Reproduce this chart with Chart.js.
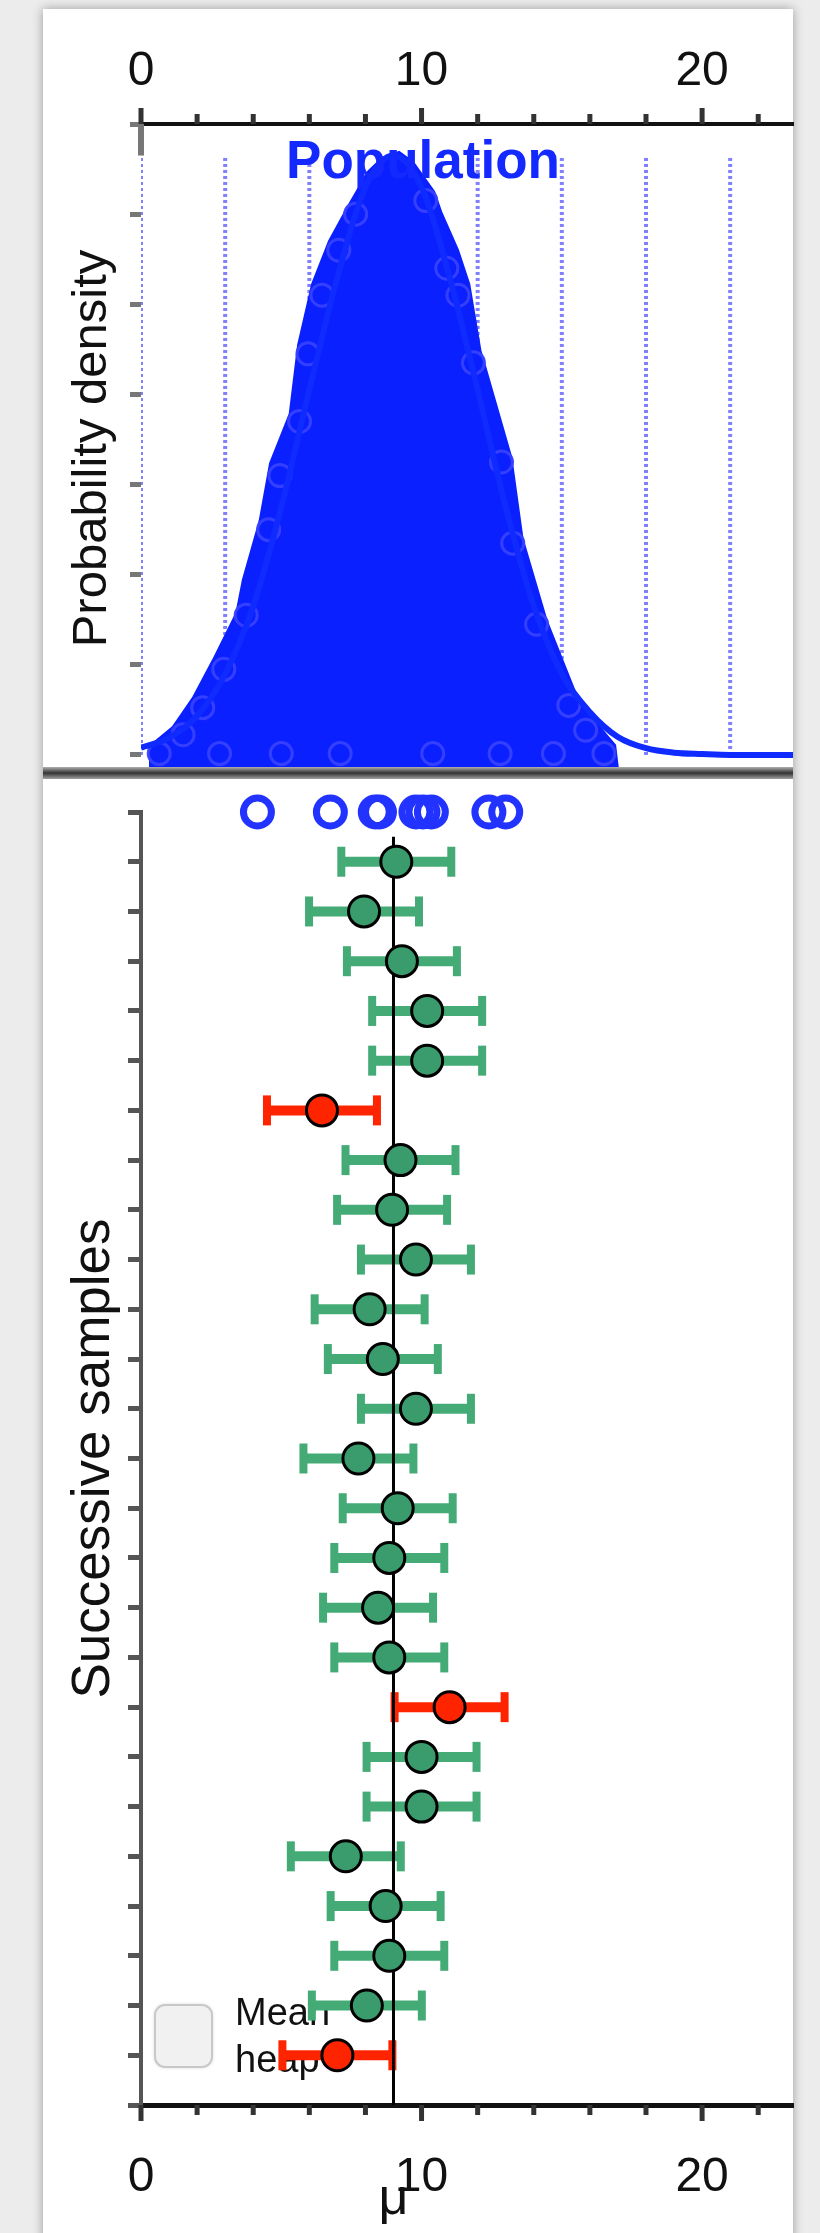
<!DOCTYPE html>
<html>
<head>
<meta charset="utf-8">
<script src="https://cdn.jsdelivr.net/npm/chart.js@4.4.1/dist/chart.umd.min.js"></script>
<style>
  html, body { margin: 0; padding: 0; background: #ececec; }
  body { width: 820px; height: 2233px; position: relative; overflow: hidden; }
  #card { position: absolute; left: 43px; top: 9px; width: 750px; height: 2250px; background: #fff;
          box-shadow: 0 0 10px rgba(0, 0, 0, 0.35); }
  #top { position: absolute; left: 0; top: 0; }
  #bottom { position: absolute; left: 0; top: 760px; }
</style>
</head>
<body>
<div id="card"></div>
<canvas id="top" width="820" height="790"></canvas>
<canvas id="bottom" width="820" height="1473"></canvas>
<script>
const FONT = '"Liberation Sans", Arial, Helvetica, sans-serif';

// shared x axis
const xMin = 0;
const xMax = 23.24;
const xMinorStep = 2;
const xTickLabels = [0, 10, 20];

// top panel: population density
const popMean = 9;
const sigmaLines = [0, 3, 6, 9, 12, 15, 18, 21];
const sigmaLineTop = 0.133;
const densityTicks = 0.02;
const curveX = [0, 1, 2, 3, 4, 5, 6, 7, 8, 9, 10, 11, 12, 13, 14, 15, 16, 17, 18, 19, 20, 21, 22, 23, 24];
const curveY = [0.0016, 0.0038, 0.0087, 0.018, 0.033, 0.055, 0.081, 0.106, 0.126, 0.133, 0.126, 0.106,
                0.081, 0.055, 0.033, 0.018, 0.0095, 0.004, 0.0015, 0.0005, 0.0002, 0, 0, 0, 0];
// outline of the blob of population draws
const blobX = [0.28, 1.13, 1.86, 2.56, 3.4, 3.63, 4.23, 4.6, 5.3, 5.6, 6.1, 6.7, 7.4, 8.1, 8.6, 9.2, 9.7,
               10.45, 10.7, 11.3, 11.7, 12.1, 12.2, 13.2, 13.6, 14.45, 15.6, 16.2, 16.9, 17.0];
const blobY = [0.0018, 0.0062, 0.0128, 0.021, 0.0315, 0.0388, 0.052, 0.0647, 0.0757, 0.091, 0.1045, 0.114,
               0.122, 0.1295, 0.1325, 0.1338, 0.1315, 0.125, 0.1205, 0.112, 0.1045, 0.0897, 0.0877, 0.066,
               0.048, 0.030, 0.012, 0.0073, 0.0022, -0.003];
const blobFloor = -0.003;
// single draws that show along the blob edge
const edgeX = [1.5, 2.2, 2.95, 3.75, 4.55, 4.95, 5.65, 5.95, 6.45, 7.05, 7.65,
               10.15, 10.9, 11.3, 11.85, 12.85, 13.25, 14.1, 15.25, 15.85,
               0.65, 2.8, 5.0, 7.1, 10.4, 12.8, 14.7, 16.5];
const edgeY = [0.0045, 0.0105, 0.019, 0.031, 0.050, 0.062, 0.074, 0.089, 0.102, 0.112, 0.12,
               0.123, 0.108, 0.102, 0.087, 0.065, 0.047, 0.029, 0.011, 0.0055,
               0.0003, 0.0003, 0.0003, 0.0003, 0.0003, 0.0003, 0.0003, 0.0003];

// bottom panel: successive samples, row 1 = bottom
const sampleMeans = [7.0, 8.05, 8.85, 8.72, 7.3, 10.0, 10.0, 11.0, 8.85, 8.45, 8.85, 9.15, 7.75,
                     9.8, 8.62, 8.15, 9.8, 8.95, 9.25, 6.45, 10.2, 10.2, 9.3, 7.95, 9.1];
const ciHalfWidth = 1.96;
const lastSample = [4.15, 6.75, 8.35, 8.5, 9.8, 10.05, 10.35, 12.4, 13.0];
const lastSampleRow = 26;
const muLineTop = 25.5;

const BLUE = '#0b20ff';
const GREEN_BAR = '#44ab77';
const GREEN_DOT = '#3a9b6d';
const RED = '#ff2400';

const topDecor = {
  id: 'topDecor',
  afterDatasetsDraw(chart) {
    const ctx = chart.ctx;
    ctx.save();
    ctx.font = 'bold 53px ' + FONT;
    ctx.fillStyle = '#1429ff';
    ctx.textAlign = 'center';
    ctx.fillText('Population', 423, 178);
    ctx.restore();
  },
  afterDraw(chart) {
    const {ctx, chartArea} = chart;
    const x = chart.scales.x;
    ctx.save();
    ctx.strokeStyle = '#333';
    ctx.lineWidth = 5;
    for (let v = xMin; v <= xMax; v += xMinorStep) {
      const px = x.getPixelForValue(v);
      const len = xTickLabels.includes(v) ? 16 : 10;
      ctx.beginPath();
      ctx.moveTo(px, chartArea.top);
      ctx.lineTo(px, chartArea.top - len);
      ctx.stroke();
    }
    // short piece of the left spine above the dotted line
    ctx.strokeStyle = '#777';
    ctx.lineWidth = 6;
    ctx.beginPath();
    ctx.moveTo(chartArea.left, chartArea.top);
    ctx.lineTo(chartArea.left, chart.scales.y.getPixelForValue(sigmaLineTop));
    ctx.stroke();
    // divider between the panels
    const g = ctx.createLinearGradient(0, 767, 0, 779);
    g.addColorStop(0, '#b0b0b0');
    g.addColorStop(0.5, '#333');
    g.addColorStop(1, '#a0a0a0');
    ctx.fillStyle = g;
    ctx.fillRect(43, 767, 750, 12);
    ctx.restore();
  }
};

const bottomDecor = {
  id: 'bottomDecor',
  beforeDatasetsDraw(chart) {
    const ctx = chart.ctx;
    const oy = 760;
    ctx.save();
    ctx.shadowColor = 'rgba(0,0,0,0.2)';
    ctx.shadowBlur = 4;
    ctx.fillStyle = '#f1f1f1';
    ctx.strokeStyle = '#c8c8c8';
    ctx.lineWidth = 2;
    ctx.beginPath();
    ctx.roundRect(155, 2005 - oy, 57, 62, 10);
    ctx.fill();
    ctx.shadowBlur = 0;
    ctx.stroke();
    ctx.font = '38px ' + FONT;
    ctx.fillStyle = '#111';
    ctx.textAlign = 'left';
    ctx.fillText('Mean', 235, 2025 - oy);
    ctx.fillText('heap', 235, 2072 - oy);
    ctx.restore();
  },
  afterDraw(chart) {
    const {ctx, chartArea} = chart;
    const x = chart.scales.x;
    ctx.save();
    ctx.strokeStyle = '#333';
    ctx.lineWidth = 5;
    for (let v = xMin; v <= xMax; v += xMinorStep) {
      const px = x.getPixelForValue(v);
      const len = xTickLabels.includes(v) ? 16 : 10;
      ctx.beginPath();
      ctx.moveTo(px, chartArea.bottom);
      ctx.lineTo(px, chartArea.bottom + len);
      ctx.stroke();
    }
    ctx.font = '52px ' + FONT;
    ctx.fillStyle = '#111';
    ctx.textAlign = 'center';
    ctx.fillText('\u03bc', x.getPixelForValue(popMean), 2214 - 760);
    ctx.restore();
  }
};

function xScale(position, padding) {
  return {
    type: 'linear', position: position, min: xMin, max: xMax,
    afterFit(s) { s.height = position === 'top' ? 124 : 100; },
    ticks: {
      stepSize: xMinorStep, includeBounds: false, autoSkip: false, maxRotation: 0, minRotation: 0,
      padding: padding, color: '#111', font: {family: FONT, size: 48},
      callback: v => (xTickLabels.includes(v) ? String(v) : '')
    },
    grid: {display: false},
    border: {display: true, color: '#111', width: position === 'top' ? 4 : 5}
  };
}

function yTitle(text, size) {
  return {display: true, text: text, color: '#111', font: {family: FONT, size: size}, padding: {top: 63, bottom: 0}};
}

// ---------- top chart ----------
const topSets = [];
sigmaLines.forEach(v => {
  topSets.push({
    data: [{x: v, y: 0}, {x: v, y: sigmaLineTop}], showLine: true, pointRadius: 0,
    borderColor: 'rgba(85, 85, 255, 0.75)', borderWidth: 4, borderDash: [3, 3], order: 5
  });
});
topSets.push({
  data: blobX.map((v, i) => ({x: v, y: blobY[i]})), showLine: true, pointRadius: 0,
  borderColor: BLUE, borderWidth: 2, backgroundColor: BLUE, fill: {value: blobFloor}, order: 4
});
topSets.push({
  data: edgeX.map((v, i) => ({x: v, y: edgeY[i]})), pointRadius: 11, pointBorderWidth: 3,
  pointBorderColor: 'rgba(55, 65, 255, 0.95)', pointBackgroundColor: BLUE, order: 3
});
topSets.push({
  data: curveX.map((v, i) => ({x: v, y: curveY[i]})), showLine: true, pointRadius: 0,
  borderColor: '#0f2bff', borderWidth: 6, cubicInterpolationMode: 'monotone', order: 1
});

new Chart(document.getElementById('top'), {
  type: 'scatter',
  data: {datasets: topSets},
  options: {
    responsive: false, devicePixelRatio: 1, animation: false, events: [],
    layout: {padding: {left: 0, top: 0, right: 27, bottom: 17}},
    plugins: {legend: {display: false}, tooltip: {enabled: false}},
    scales: {
      x: xScale('top', 15),
      y: {
        type: 'linear', min: -0.004, max: 0.14,
        afterFit(s) { s.width = 141; },
        ticks: {stepSize: densityTicks, includeBounds: false, callback: () => ''},
        grid: {display: true, drawOnChartArea: false, drawTicks: true, tickLength: 11, tickWidth: 5, tickColor: '#777'},
        border: {display: false},
        title: yTitle('Probability density', 49)
      }
    }
  },
  plugins: [topDecor]
});

// ---------- bottom chart ----------
const botSets = [];
sampleMeans.forEach((m, i) => {
  const lo = m - ciHalfWidth, hi = m + ciHalfWidth;
  const c = (lo > popMean || hi < popMean) ? RED : GREEN_BAR;
  botSets.push({
    data: [{x: lo, y: i + 1}, {x: hi, y: i + 1}], showLine: true,
    borderColor: c, borderWidth: 10,
    pointStyle: 'line', pointRotation: 90, pointRadius: 15, pointBorderWidth: 8, pointBorderColor: c,
    order: 3
  });
});
botSets.push({
  data: [{x: popMean, y: 0}, {x: popMean, y: muLineTop}], showLine: true, pointRadius: 0,
  borderColor: '#000', borderWidth: 3, order: 2
});
botSets.push({
  data: sampleMeans.map((m, i) => ({x: m, y: i + 1})),
  pointRadius: 15.5, pointBorderWidth: 3, pointBorderColor: '#000',
  pointBackgroundColor: sampleMeans.map(m =>
    (m - ciHalfWidth > popMean || m + ciHalfWidth < popMean) ? RED : GREEN_DOT),
  order: 1
});
botSets.push({
  data: lastSample.map(v => ({x: v, y: lastSampleRow})),
  pointRadius: 14, pointBorderWidth: 7, pointBorderColor: '#2233ff', pointBackgroundColor: 'rgba(0,0,0,0)',
  clip: false, order: 0
});

new Chart(document.getElementById('bottom'), {
  type: 'scatter',
  data: {datasets: botSets},
  options: {
    responsive: false, devicePixelRatio: 1, animation: false, events: [],
    layout: {padding: {left: 0, top: 52, right: 27, bottom: 28}},
    plugins: {legend: {display: false}, tooltip: {enabled: false}},
    scales: {
      x: xScale('bottom', 36),
      y: {
        type: 'linear', min: 0, max: lastSampleRow,
        afterFit(s) { s.width = 141; },
        ticks: {stepSize: 1, includeBounds: false, callback: () => ''},
        grid: {display: true, drawOnChartArea: false, drawTicks: true, tickLength: 13, tickWidth: 5, tickColor: '#555'},
        border: {display: true, color: '#555', width: 4},
        title: yTitle('Successive samples', 53)
      }
    }
  },
  plugins: [bottomDecor]
});
</script>
</body>
</html>
